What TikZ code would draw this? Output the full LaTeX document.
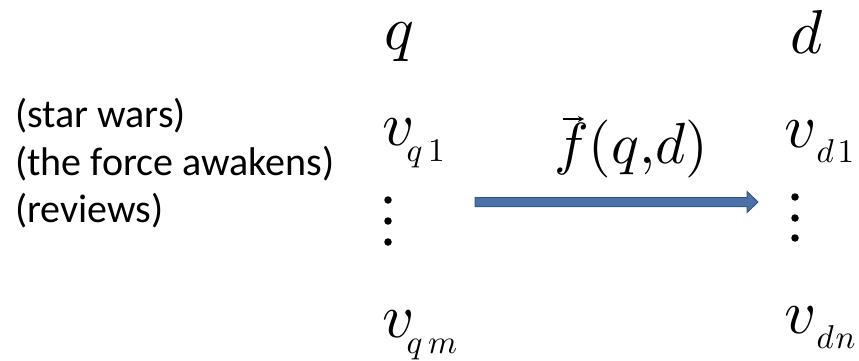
\documentclass[tikz,border=0pt]{standalone}
\usepackage{fontspec}
\setmainfont{Carlito}
\usetikzlibrary{arrows.meta,calc}
\definecolor{arrfill}{HTML}{4A72A8}
\definecolor{arrline}{HTML}{34578A}
\tikzset{
  lbl/.style={anchor=base west,inner sep=0pt,font=\fontsize{40}{48}\selectfont},
  big/.style={anchor=base west,inner sep=0pt,scale=6.2},
  mid/.style={anchor=base west,inner sep=0pt,scale=5.8},
  sub/.style={anchor=base west,inner sep=0pt,scale=3.3},
  dot/.style={circle,fill=black,inner sep=0pt,minimum size=7.5pt},
}
\begin{document}
\begin{tikzpicture}[x=1pt,y=-1pt]
\useasboundingbox (0,0) rectangle (859,361);
% left labels
\node[lbl] (t1) at (15,127) {(star wars)};
\node[lbl] (t2) at (15,175) {(the force awakens)};
\node[lbl] (t3) at (15,222) {(reviews)};
% q column
\node[big] (q) at (383,50) {$q$};
\node[big] (vq1) at (381,145) {$v$};
\node[sub] (vq1s) at (406,161) {$q\,1$};
\node[dot] (qd1) at (388,200) {};
\node[dot] (qd2) at (388,221) {};
\node[dot] (qd3) at (388,242) {};
\node[big] (vqm) at (381,337) {$v$};
\node[sub] (vqms) at (406,353) {$q\,m$};
% d column
\node[big] (d) at (789,53) {$d$};
\node[big] (vd1) at (783,147) {$v$};
\node[sub] (vd1s) at (816,162) {$d\mkern2mu 1$};
\node[dot] (dd1) at (795,197) {};
\node[dot] (dd2) at (795,218) {};
\node[dot] (dd3) at (795,238) {};
\node[big] (vdn) at (783,333) {$v$};
\node[sub] (vdns) at (816,348) {$d\mkern1mu n$};
% function label
\node[mid] (f) at (553,163) {$f(q,\!d)$};
\coordinate (vs) at (563,119);
\coordinate (ve) at (584,119);
\draw[line width=1.4pt,-{Stealth[length=6pt,width=6pt]}] (vs) -- (ve);
% arrow
\coordinate (aS) at (475,202);
\coordinate (aE) at (758,202);
\draw[fill=arrfill,draw=arrline,line width=1pt,line join=miter]
  ($(aS)+(0,-4.5)$) -- ($(aE)+(-11,-4.5)$) -- ($(aE)+(-11,-10.5)$) -- (aE)
  -- ($(aE)+(-11,10.5)$) -- ($(aE)+(-11,4.5)$) -- ($(aS)+(0,4.5)$) -- cycle;
\end{tikzpicture}
\end{document}
